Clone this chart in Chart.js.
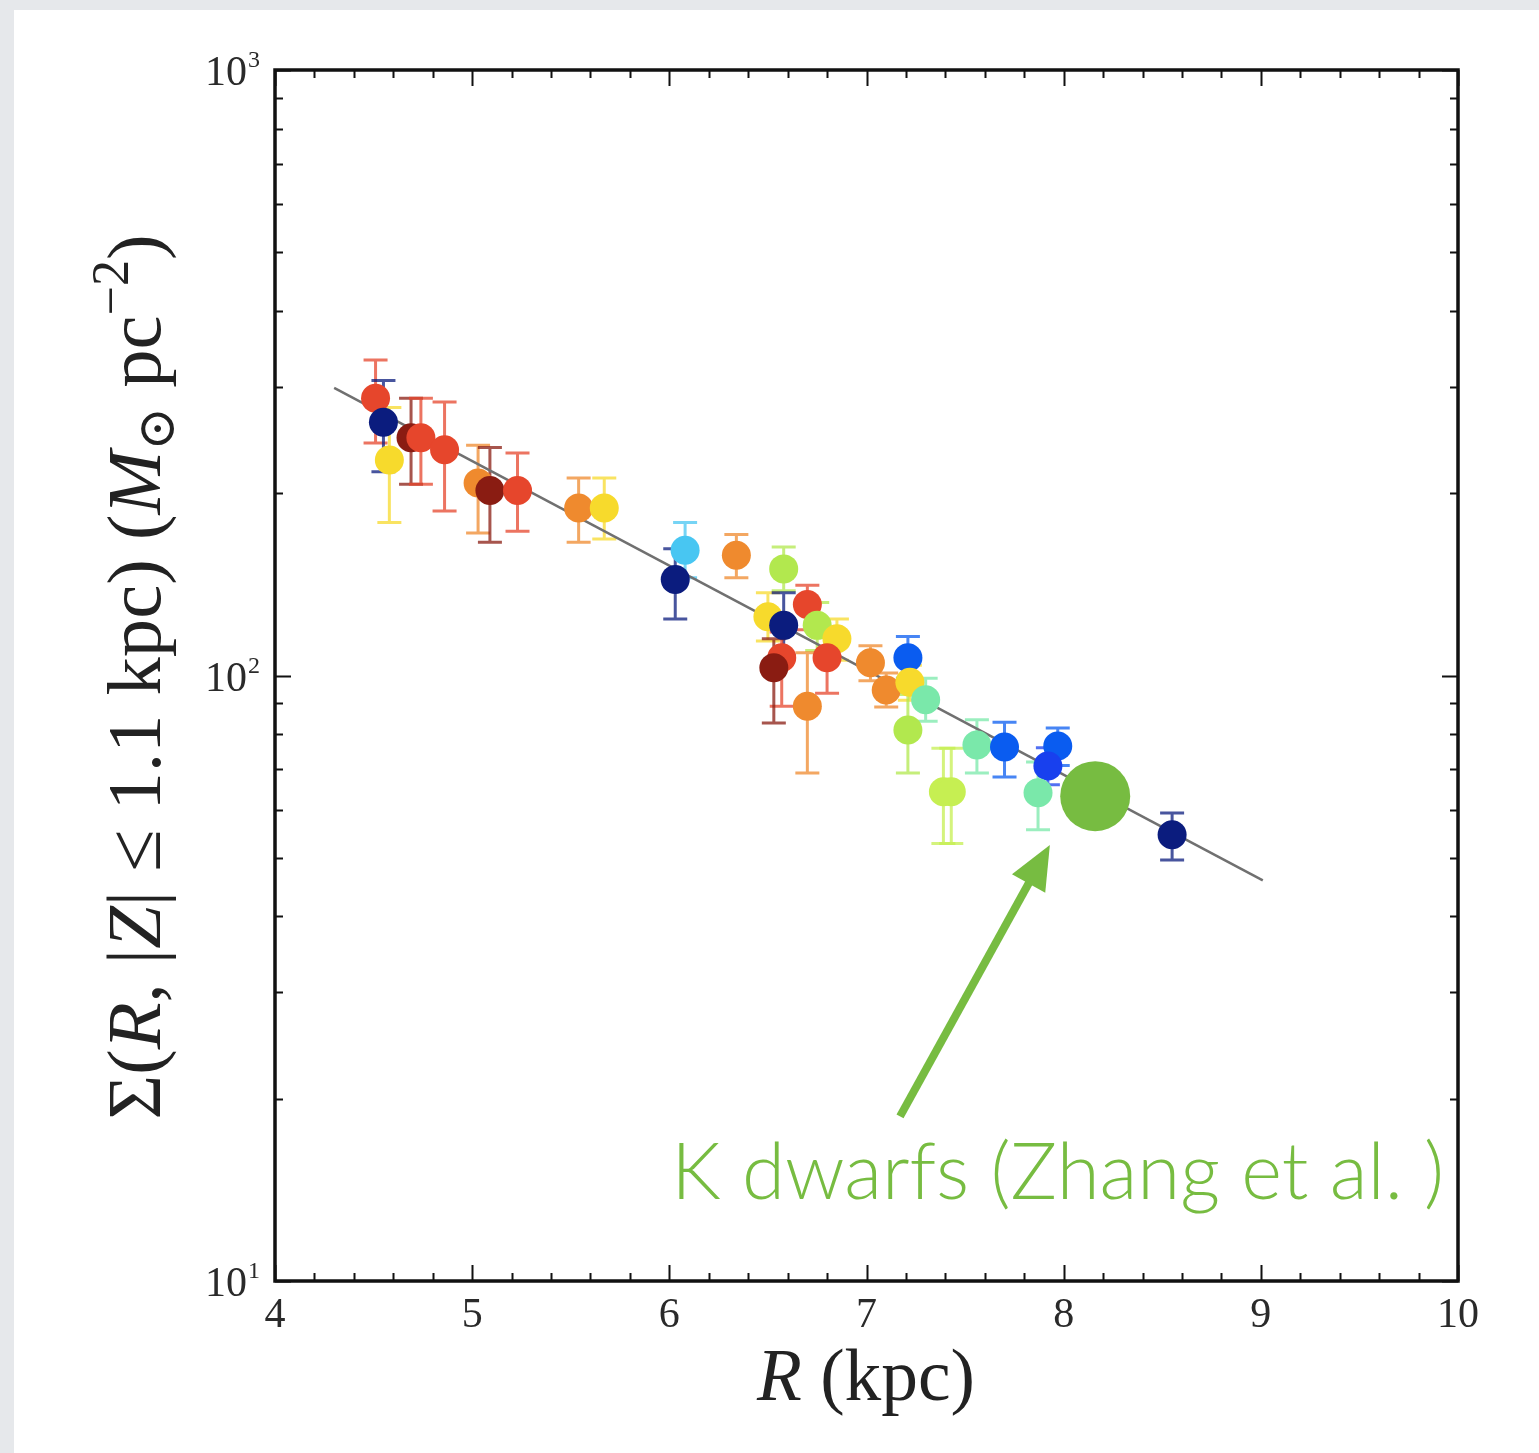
<!DOCTYPE html>
<html>
<head>
<meta charset="utf-8">
<script src="https://cdn.jsdelivr.net/npm/chart.js@4.4.1/dist/chart.umd.min.js"></script>
<style>
    html, body { margin: 0; padding: 0; background: #e6e8eb; }
    #wrap { width: 1539px; height: 1453px; position: relative; }
</style>
</head>
<body>
<div id="wrap"><canvas id="sigmaChart"></canvas></div>
<script>
// 資料：半徑 R (kpc)、面密度 Σ 與誤差上下限
const radius = [4.51, 4.55, 4.58, 4.69, 4.74, 4.86, 5.03, 5.09, 5.23, 5.54, 5.67,
    6.08, 6.03, 6.34, 6.58, 6.50, 6.58, 6.70, 6.75, 6.85, 6.57, 6.53, 6.80, 6.70,
    7.02, 7.10, 7.21, 7.22, 7.30, 7.21, 7.39, 7.43, 7.56, 7.70, 7.97, 7.92, 7.87, 8.55];
const sigma = [287, 262, 227, 247, 247, 236, 208, 202, 202, 189, 189,
    161, 144, 158, 150, 125, 121, 131, 121, 115, 107, 103, 107, 89,
    105, 94.6, 107, 97.5, 91.2, 81.3, 64.3, 64.3, 76.8, 76.2, 76.5, 70.9, 64, 54.6];
const sigmaHi = [332, 307, 277, 287, 287, 283, 240, 238, 233, 212, 212,
    179, 162, 171, 163, 137, 137, 141, 132, 124, 118, 115, 118, 109,
    112, 101, 116, 104, 99, 93, 75.8, 75.8, 84.5, 83.7, 81.9, 76, 72, 59.3];
const sigmaLo = [242, 217, 179, 207, 207, 187, 172, 166, 173, 166, 168,
    145, 124, 145, 138, 114, 108, 119, 110, 106, 89, 83.5, 93.5, 69,
    98, 88.7, 99, 91, 84, 69, 52.8, 52.8, 69, 68, 71, 66, 55.6, 49.6];
const pointColors = ['red', 'navy', 'yellow', 'maroon', 'red', 'red', 'orange', 'maroon', 'red', 'orange', 'yellow',
    'lightblue', 'navy', 'orange', 'lime', 'yellow', 'navy', 'red', 'lime', 'yellow', 'red', 'maroon', 'red', 'orange',
    'orange', 'orange', 'blue', 'yellow', 'aqua', 'lime', 'lightlime', 'lightlime', 'aqua', 'blue', 'blue', 'blue2', 'aqua', 'navy'];

// K dwarfs (Zhang et al.)
const kDwarfR = [8.16];
const kDwarfSigma = [63.2];

// 指數盤擬合線端點
const fitR = [4.30, 9.01];
const fitSigma = [298.5, 45.9];

// 刻度
const xTicks = [4, 5, 6, 7, 8, 9, 10];
const yTicks = [10, 100, 1000];
const yTickExp = ['1', '2', '3'];

// 箭頭與標註 (資料座標)
const arrowFrom = [7.17, 18.7];
const arrowTo = [7.93, 52.5];
const noteAt = [6.01, 13.66];
const noteText = 'K dwarfs (Zhang et al. )';

const palette = {
    navy: '#0b1c7e',
    blue: '#0a5cf0',
    blue2: '#1840ee',
    lightblue: '#48c6f2',
    aqua: '#7ae8aa',
    lime: '#b2e84e',
    lightlime: '#c6ef52',
    yellow: '#f7da2c',
    orange: '#ef8a2e',
    red: '#e6462c',
    maroon: '#8a1c12'
};
const kGreen = '#77bc41';
const serif = '"Liberation Serif", "DejaVu Serif", serif';

function withAlpha(hex, a) {
    const n = parseInt(hex.slice(1), 16);
    return `rgba(${(n >> 16) & 255}, ${(n >> 8) & 255}, ${n & 255}, ${a})`;
}

// 背景
const backgroundPlugin = {
    id: 'slideBackground',
    beforeDraw(chart) {
        const ctx = chart.ctx;
        ctx.save();
        ctx.fillStyle = '#e6e8eb';
        ctx.fillRect(0, 0, chart.width, chart.height);
        ctx.fillStyle = '#ffffff';
        ctx.fillRect(14, 10, chart.width - 14, chart.height - 10);
        ctx.restore();
    }
};

// 誤差棒
const errorBarPlugin = {
    id: 'errorBars',
    beforeDatasetsDraw(chart) {
        const ctx = chart.ctx;
        const x = chart.scales.x;
        const y = chart.scales.y;
        ctx.save();
        ctx.lineWidth = 3;
        for (let i = 0; i < radius.length; i++) {
            const px = x.getPixelForValue(radius[i]);
            const top = y.getPixelForValue(sigmaHi[i]);
            const bottom = y.getPixelForValue(sigmaLo[i]);
            ctx.strokeStyle = withAlpha(palette[pointColors[i]], 0.75);
            ctx.beginPath();
            ctx.moveTo(px, top);
            ctx.lineTo(px, bottom);
            ctx.moveTo(px - 12, top);
            ctx.lineTo(px + 12, top);
            ctx.moveTo(px - 12, bottom);
            ctx.lineTo(px + 12, bottom);
            ctx.stroke();
        }
        ctx.restore();
    }
};

// 外框、刻度、軸標題、箭頭與標註
const framePlugin = {
    id: 'frameAndNotes',
    afterDraw(chart) {
        const ctx = chart.ctx;
        const area = chart.chartArea;
        const x = chart.scales.x;
        const y = chart.scales.y;
        ctx.save();
        ctx.strokeStyle = '#111111';

        // 刻度 (朝內，上下左右)
        ctx.lineWidth = 2;
        ctx.beginPath();
        for (let v = 4; v <= 10.001; v += 0.2) {
            const major = Math.abs(v - Math.round(v)) < 0.01;
            const len = major ? 16 : 8;
            const px = Math.round(x.getPixelForValue(v)) + 0.5;
            ctx.moveTo(px, area.bottom);
            ctx.lineTo(px, area.bottom - len);
            ctx.moveTo(px, area.top);
            ctx.lineTo(px, area.top + len);
        }
        for (let d = 10; d < 1000; d *= 10) {
            for (let m = 1; m <= 10; m++) {
                const len = (m === 1 || m === 10) ? 16 : 8;
                const py = Math.round(y.getPixelForValue(d * m)) + 0.5;
                ctx.moveTo(area.left, py);
                ctx.lineTo(area.left + len, py);
                ctx.moveTo(area.right, py);
                ctx.lineTo(area.right - len, py);
            }
        }
        ctx.stroke();

        // 外框
        ctx.lineWidth = 3.5;
        ctx.strokeRect(area.left, area.top, area.right - area.left, area.bottom - area.top);

        // Y 軸刻度標籤 10^n
        ctx.fillStyle = '#2a2a2a';
        ctx.textBaseline = 'alphabetic';
        ctx.textAlign = 'left';
        yTicks.forEach((v, i) => {
            const py = y.getPixelForValue(v);
            ctx.font = `24px ${serif}`;
            const ew = ctx.measureText(yTickExp[i]).width;
            ctx.font = `42px ${serif}`;
            const bw = ctx.measureText('10').width;
            const left = area.left - 16 - ew - bw;
            ctx.fillText('10', left, py + 15);
            ctx.font = `24px ${serif}`;
            ctx.fillText(yTickExp[i], left + bw + 1, py - 3);
        });

        // X 軸標題
        ctx.fillStyle = '#222222';
        drawRich(ctx, [['R', 'i'], [' (kpc)', 'n']], 866, 1400, 218);

        // Y 軸標題 (旋轉)
        ctx.save();
        ctx.translate(160, 677);
        ctx.rotate(-Math.PI / 2);
        drawRich(ctx, [
            ['Σ(', 'n'], ['R', 'i'], [', |', 'n'], ['Z', 'i'], ['| ≤ 1.1 kpc) (', 'n'],
            ['M', 'i'], ['⊙', 'sub'], [' pc', 'n'], ['−2', 'sup'], [')', 'n']
        ], 0, 0, 885);
        ctx.restore();

        // 箭頭
        const ax0 = x.getPixelForValue(arrowFrom[0]);
        const ay0 = y.getPixelForValue(arrowFrom[1]);
        const ax1 = x.getPixelForValue(arrowTo[0]);
        const ay1 = y.getPixelForValue(arrowTo[1]);
        const ang = Math.atan2(ay1 - ay0, ax1 - ax0);
        const headLen = 44;
        const headHalf = 19;
        const bx = ax1 - headLen * Math.cos(ang);
        const by = ay1 - headLen * Math.sin(ang);
        ctx.strokeStyle = kGreen;
        ctx.fillStyle = kGreen;
        ctx.lineWidth = 8;
        ctx.beginPath();
        ctx.moveTo(ax0, ay0);
        ctx.lineTo(bx + 6 * Math.cos(ang), by + 6 * Math.sin(ang));
        ctx.stroke();
        ctx.beginPath();
        ctx.moveTo(ax1, ay1);
        ctx.lineTo(bx + headHalf * Math.sin(ang), by - headHalf * Math.cos(ang));
        ctx.lineTo(bx - headHalf * Math.sin(ang), by + headHalf * Math.cos(ang));
        ctx.closePath();
        ctx.fill();

        // 標註文字
        const nx = x.getPixelForValue(noteAt[0]);
        const ny = y.getPixelForValue(noteAt[1]);
        let size = 80;
        ctx.font = `300 ${size}px Lato, "Open Sans", sans-serif`;
        size = size * 773 / ctx.measureText(noteText).width;
        ctx.font = `300 ${size}px Lato, "Open Sans", sans-serif`;
        ctx.textAlign = 'left';
        ctx.fillText(noteText, nx, ny);

        ctx.restore();
    }
};

// 混合字型文字 (置中)，並縮放至指定寬度
function drawRich(ctx, parts, cx, baseline, targetWidth) {
    const fontFor = (kind, size) => {
        if (kind === 'i') return `italic ${size}px ${serif}`;
        if (kind === 'sub' || kind === 'sup') return `${size * 0.68}px ${serif}`;
        return `${size}px ${serif}`;
    };
    const measure = (size) => parts.reduce((w, p) => {
        ctx.font = fontFor(p[1], size);
        return w + ctx.measureText(p[0]).width;
    }, 0);
    const size = 60 * targetWidth / measure(60);
    let px = cx - measure(size) / 2;
    ctx.textAlign = 'left';
    for (const p of parts) {
        ctx.font = fontFor(p[1], size);
        let py = baseline;
        if (p[1] === 'sub') py += size * 0.18;
        if (p[1] === 'sup') py -= size * 0.42;
        ctx.fillText(p[0], px, py);
        px += ctx.measureText(p[0]).width;
    }
}

const ctx = document.getElementById('sigmaChart');

new Chart(ctx, {
    type: 'scatter',
    data: {
        datasets: [
            {
                type: 'line',
                label: 'fit',
                data: fitR.map((r, i) => ({ x: r, y: fitSigma[i] })),
                borderColor: '#707070',
                borderWidth: 2.5,
                pointRadius: 0,
                fill: false,
                order: 3
            },
            {
                label: 'disk',
                data: radius.map((r, i) => ({ x: r, y: sigma[i] })),
                backgroundColor: pointColors.map(c => palette[c]),
                borderColor: pointColors.map(c => palette[c]),
                borderWidth: 0,
                pointRadius: 14.5,
                pointHoverRadius: 14.5,
                order: 2
            },
            {
                label: 'K dwarfs',
                data: kDwarfR.map((r, i) => ({ x: r, y: kDwarfSigma[i] })),
                backgroundColor: kGreen,
                borderWidth: 0,
                pointRadius: 35,
                pointHoverRadius: 35,
                order: 1
            }
        ]
    },
    options: {
        responsive: true,
        maintainAspectRatio: false,
        animation: false,
        events: [],
        layout: {
            padding: { left: 0, right: 81, top: 70, bottom: 0 }
        },
        plugins: {
            legend: { display: false },
            tooltip: { enabled: false }
        },
        scales: {
            x: {
                type: 'linear',
                min: 4,
                max: 10,
                afterBuildTicks: (scale) => { scale.ticks = xTicks.map(v => ({ value: v })); },
                afterFit: (scale) => { scale.height = 172; },
                ticks: {
                    color: '#2a2a2a',
                    font: { family: serif, size: 42 },
                    padding: 2,
                    maxRotation: 0,
                    autoSkip: false
                },
                grid: { display: false },
                border: { display: false }
            },
            y: {
                type: 'logarithmic',
                min: 10,
                max: 1000,
                afterBuildTicks: (scale) => { scale.ticks = yTicks.map(v => ({ value: v })); },
                afterFit: (scale) => { scale.width = 275; },
                ticks: {
                    display: false
                },
                grid: { display: false },
                border: { display: false }
            }
        }
    },
    plugins: [backgroundPlugin, errorBarPlugin, framePlugin]
});
</script>
</body>
</html>
